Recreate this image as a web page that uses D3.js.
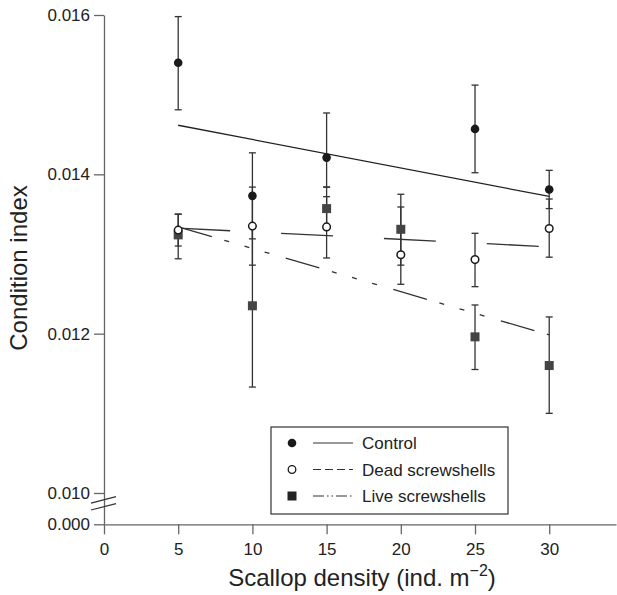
<!DOCTYPE html>
<html>
<head>
<meta charset="utf-8">
<script src="https://cdn.jsdelivr.net/npm/d3@7"></script>
<style>
  body { margin: 0; background: #fff; }
  svg { display: block; font-family: "Liberation Sans", Arial, Helvetica, sans-serif; }
</style>
</head>
<body>
<div id="chart"></div>
<script>
// data
var controlX = [5, 10, 15, 25, 30]
var controlMean = [0.01540, 0.01373, 0.01421, 0.01457, 0.01381]
var controlLo = [0.01481, 0.01319, 0.01384, 0.01402, 0.01357]
var controlHi = [0.01598, 0.01427, 0.01477, 0.01512, 0.01405]

var deadX = [5, 10, 15, 20, 25, 30]
var deadMean = [0.01330, 0.01335, 0.01334, 0.01299, 0.01293, 0.01332]
var deadLo = [0.01310, 0.01286, 0.01295, 0.01262, 0.01259, 0.01296]
var deadHi = [0.01350, 0.01384, 0.01372, 0.01359, 0.01326, 0.01369]

var liveX = [5, 10, 15, 20, 25, 30]
var liveMean = [0.01324, 0.01235, 0.01357, 0.01331, 0.01196, 0.01160]
var liveLo = [0.01294, 0.01133, 0.01331, 0.01286, 0.01155, 0.01100]
var liveHi = [0.01350, 0.01337, 0.01384, 0.01375, 0.01236, 0.01221]

// fitted lines, end points at x = 5 and x = 30
var fitX = [5, 30]
var controlFit = [0.014616, 0.013722]
var deadFit = [0.013325, 0.013090]
var liveFit = [0.013340, 0.011985]

var xTicks = [0, 5, 10, 15, 20, 25, 30]
var yTicks = [0.000, 0.010, 0.012, 0.014, 0.016]
var legendLabels = ["Control", "Dead screwshells", "Live screwshells"]

var W = 617, H = 595

var svg = d3.select("#chart")
  .append("svg")
  .attr("width", W)
  .attr("height", H)

var x = d3.scaleLinear().domain([0, 34.5]).range([104, 616])
// broken axis: 0 -> 0.010 squeezed
var y = d3.scaleLinear().domain([0, 0.010, 0.016]).range([524.3, 493, 15])

var axisColor = "#666"
var textColor = "#222"

// y axis
var gy = svg.append("g")
  .attr("transform", "translate(" + x(0) + ",0)")
  .call(d3.axisLeft(y).tickValues(yTicks).tickFormat(d3.format(".3f")).tickSize(10).tickPadding(4).tickSizeOuter(0))
gy.select(".domain").attr("stroke", axisColor).attr("stroke-width", 1.3)
gy.selectAll(".tick line").attr("stroke", axisColor).attr("stroke-width", 1.3)
gy.selectAll(".tick text").attr("fill", textColor).style("font-size", "17px").style("font-family", "inherit")

// x axis
var gx = svg.append("g")
  .attr("transform", "translate(0," + y(0) + ")")
  .call(d3.axisBottom(x).tickValues(xTicks).tickSize(10).tickPadding(9).tickSizeOuter(0))
gx.select(".domain").attr("stroke", axisColor).attr("stroke-width", 1.3)
gx.selectAll(".tick line").attr("stroke", axisColor).attr("stroke-width", 1.3)
gx.selectAll(".tick text").attr("fill", textColor).style("font-size", "17px").style("font-family", "inherit")

// axis break marks
var breakVals = [0.0078, 0.0056]
breakVals.forEach(function (bv) {
  var by = y(bv)
  svg.append("line")
    .attr("x1", x(0) - 13).attr("y1", by + 3.2)
    .attr("x2", x(0) + 12).attr("y2", by - 3.2)
    .attr("stroke", "#333").attr("stroke-width", 1.2)
})

// axis titles
svg.append("text")
  .attr("x", 362).attr("y", 586)
  .attr("text-anchor", "middle")
  .attr("fill", textColor)
  .style("font-size", "24px")
  .text("Scallop density (ind. m")
  .append("tspan").attr("dy", -10).style("font-size", "16px").text("\u22122")
  .select(function () { return this.parentNode })
  .append("tspan").attr("dy", 10).text(")")

svg.append("text")
  .attr("transform", "translate(27,268) rotate(-90)")
  .attr("text-anchor", "middle")
  .attr("fill", textColor)
  .style("font-size", "24px")
  .text("Condition index")

// fitted lines
var line = d3.line().x(function (d) { return x(d[0]) }).y(function (d) { return y(d[1]) })

svg.append("path")
  .attr("d", line(d3.zip(fitX, controlFit)))
  .attr("fill", "none").attr("stroke", "#222").attr("stroke-width", 1.3)

svg.append("path")
  .attr("d", line(d3.zip(fitX, deadFit)))
  .attr("fill", "none").attr("stroke", "#333").attr("stroke-width", 1.3)
  .attr("stroke-dasharray", "52 51")

svg.append("path")
  .attr("d", line(d3.zip(fitX, liveFit)))
  .attr("fill", "none").attr("stroke", "#333").attr("stroke-width", 1.3)
  .attr("stroke-dasharray", "35 13 5 16 5 16 5 17")

// error bars
function errorBars(xs, lo, hi, color) {
  var g = svg.append("g").attr("stroke", color).attr("stroke-width", 1.3)
  xs.forEach(function (xv, i) {
    g.append("line").attr("x1", x(xv)).attr("x2", x(xv)).attr("y1", y(lo[i])).attr("y2", y(hi[i]))
    g.append("line").attr("x1", x(xv) - 3.5).attr("x2", x(xv) + 3.5).attr("y1", y(lo[i])).attr("y2", y(lo[i]))
    g.append("line").attr("x1", x(xv) - 3.5).attr("x2", x(xv) + 3.5).attr("y1", y(hi[i])).attr("y2", y(hi[i]))
  })
}
errorBars(liveX, liveLo, liveHi, "#333")
errorBars(deadX, deadLo, deadHi, "#333")
errorBars(controlX, controlLo, controlHi, "#333")

// points
svg.append("g").selectAll("rect")
  .data(d3.zip(liveX, liveMean)).enter()
  .append("rect")
  .attr("x", function (d) { return x(d[0]) - 4.5 })
  .attr("y", function (d) { return y(d[1]) - 4.5 })
  .attr("width", 9).attr("height", 9)
  .attr("fill", "#444")

svg.append("g").selectAll("circle")
  .data(d3.zip(deadX, deadMean)).enter()
  .append("circle")
  .attr("cx", function (d) { return x(d[0]) })
  .attr("cy", function (d) { return y(d[1]) })
  .attr("r", 3.8)
  .attr("fill", "#fff").attr("stroke", "#1a1a1a").attr("stroke-width", 1.5)

svg.append("g").selectAll("circle")
  .data(d3.zip(controlX, controlMean)).enter()
  .append("circle")
  .attr("cx", function (d) { return x(d[0]) })
  .attr("cy", function (d) { return y(d[1]) })
  .attr("r", 4.3)
  .attr("fill", "#1a1a1a")

// legend
var lg = svg.append("g")
lg.append("rect")
  .attr("x", 271).attr("y", 427).attr("width", 237).attr("height", 87)
  .attr("fill", "#fff").attr("stroke", "#333").attr("stroke-width", 1.2)

var rowY = [443, 469.5, 496]
var dashes = [null, "8 4", "11 3 1.5 3 1.5 3"]
legendLabels.forEach(function (lab, i) {
  var ry = rowY[i]
  if (i == 0) lg.append("circle").attr("cx", 292).attr("cy", ry).attr("r", 4.3).attr("fill", "#1a1a1a")
  if (i == 1) lg.append("circle").attr("cx", 292).attr("cy", ry).attr("r", 3.8).attr("fill", "#fff").attr("stroke", "#1a1a1a").attr("stroke-width", 1.3)
  if (i == 2) lg.append("rect").attr("x", 287.5).attr("y", ry - 4.5).attr("width", 9).attr("height", 9).attr("fill", "#222")
  lg.append("line")
    .attr("x1", 313).attr("x2", 353).attr("y1", ry).attr("y2", ry)
    .attr("stroke", "#333").attr("stroke-width", 1.2)
    .attr("stroke-dasharray", dashes[i])
  lg.append("text")
    .attr("x", 362).attr("y", ry + 6)
    .attr("fill", textColor)
    .style("font-size", "17px")
    .text(lab)
})
</script>
</body>
</html>
